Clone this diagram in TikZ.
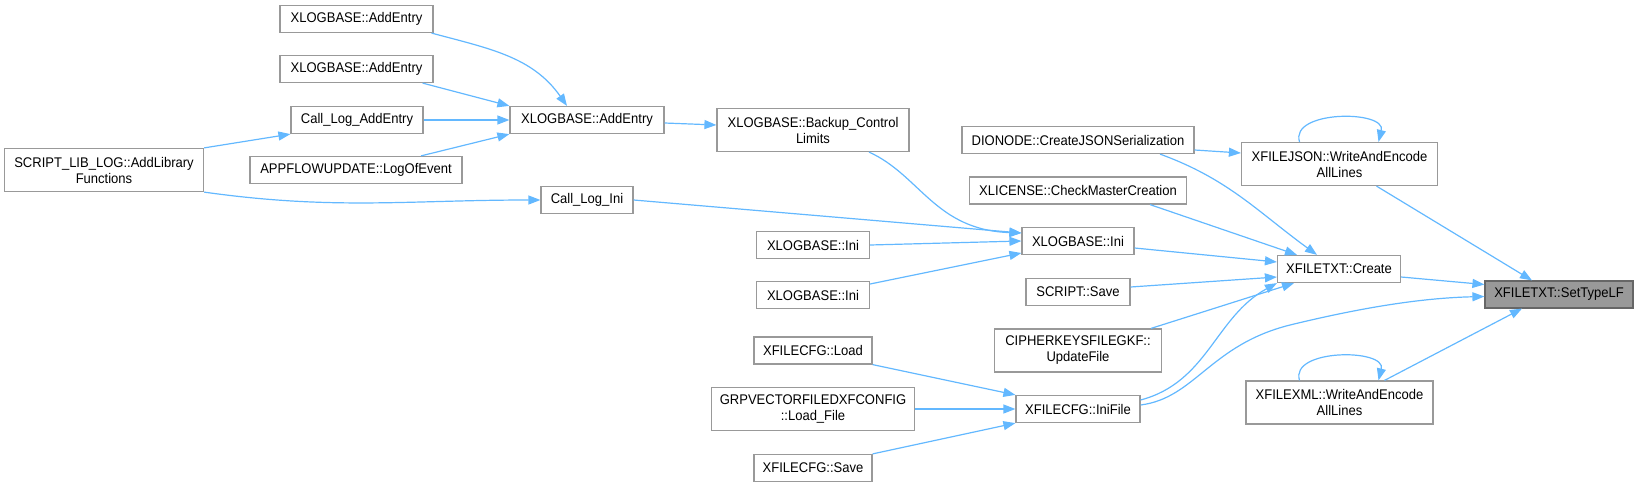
\documentclass[tikz,border=0pt]{standalone}
\usepackage{fontspec}
\setmainfont{Liberation Sans}[FakeStretch=0.93]
\usetikzlibrary{arrows.meta}
\definecolor{edgeBlue}{RGB}{99,184,255}
\definecolor{boxLine}{RGB}{153,153,153}
\definecolor{hiFill}{RGB}{153,153,153}
\definecolor{hiLine}{RGB}{102,102,102}

\begin{document}
\begin{tikzpicture}[x=1pt,y=-1pt,
  fn/.style={draw=boxLine,line width=1.2pt,fill=white,inner sep=0pt,minimum height=27pt,
    align=center,font=\fontsize{14}{16}\selectfont},
  fntwo/.style={fn,minimum height=43pt},
  hl/.style={fn,fill=hiFill,draw=hiLine},
  call/.style={draw=edgeBlue,line width=1.2pt,-{Triangle[length=12pt,width=9pt]}}]
  \useasboundingbox (0,0) rectangle (1638,487);
  % logging callers
  \node[fn,minimum width=153pt] (a1) at (356.5,19) {XLOGBASE::AddEntry};
  \node[fn,minimum width=153pt] (a2) at (356.5,69) {XLOGBASE::AddEntry};
  \node[fn,minimum width=132pt] (cla) at (357,120) {Call\_Log\_AddEntry};
  \node[fn,minimum width=212pt] (afu) at (356,170) {APPFLOWUPDATE::LogOfEvent};
  \node[fntwo,minimum width=199pt] (slib) at (104,170) {SCRIPT\_LIB\_LOG::AddLibrary\\Functions};
  \node[fn,minimum width=154pt] (am) at (587,120) {XLOGBASE::AddEntry};
  \node[fn,minimum width=92pt] (cli) at (587,200) {Call\_Log\_Ini};
  \node[fntwo,minimum width=192pt] (bcl) at (813,130) {XLOGBASE::Backup\_Control\\Limits};
  \node[fn,minimum width=113pt] (ini1) at (813,245) {XLOGBASE::Ini};
  \node[fn,minimum width=113pt] (ini2) at (813,295) {XLOGBASE::Ini};
  % config callers
  \node[fn,minimum width=118pt] (cfgl) at (813,350.5) {XFILECFG::Load};
  \node[fntwo,minimum width=203pt] (grp) at (813,409) {GRPVECTORFILEDXFCONFIG\\::Load\_File};
  \node[fn,minimum width=118pt] (cfgs) at (813,468) {XFILECFG::Save};
  % direct callers of Create
  \node[fn,minimum width=232pt] (dio) at (1078,140) {DIONODE::CreateJSONSerialization};
  \node[fn,minimum width=217pt] (xlic) at (1078,190.5) {XLICENSE::CheckMasterCreation};
  \node[fn,minimum width=112pt] (inim) at (1078,241) {XLOGBASE::Ini};
  \node[fn,minimum width=104pt] (ssave) at (1078,292) {SCRIPT::Save};
  \node[fntwo,minimum width=167pt] (ciph) at (1078,350.5) {CIPHERKEYSFILEGKF::\\UpdateFile};
  \node[fn,minimum width=124pt] (inif) at (1078,409) {XFILECFG::IniFile};
  % last columns
  \node[fntwo,minimum width=196pt] (json) at (1339.5,164) {XFILEJSON::WriteAndEncode\\AllLines};
  \node[fn,minimum width=123pt] (create) at (1339,269) {XFILETXT::Create};
  \node[fntwo,minimum width=187pt] (xml) at (1339.5,402.5) {XFILEXML::WriteAndEncode\\AllLines};
  \node[hl,minimum width=148pt] (stlf) at (1559,294.5) {XFILETXT::SetTypeLF};

  % edges, log part
  \draw[call] ([xshift=-2pt]a1.south east) to[out=-15,in=125] ([xshift=-20pt]am.north);
  \draw[call] ([xshift=-11pt]a2.south east) -- (am.north west);
  \draw[call] (cla.east) -- (am.west);
  \draw[call] ([xshift=65pt]afu.north) -- (am.south west);
  \draw[call] (slib.north east) -- (cla.south west);
  \draw[call] (slib.south east) to[out=-8,in=180] (cli.west);
  \draw[call] ([yshift=-3pt]am.east) -- ([yshift=5pt]bcl.west);
  \draw[call] ([xshift=56pt]bcl.south) .. controls (920,175) and (935,230) .. ([yshift=8pt]inim.west);
  \draw[call] (cli.east) -- ([yshift=8pt]inim.west);
  \draw[call] (ini1.east) -- (inim.west);
  \draw[call] ([yshift=11pt]ini2.east) -- ([yshift=-12pt]inim.west);
  % edges, file part
  \draw[call] ([yshift=-7pt]inim.east) -- ([yshift=7pt]create.west);
  \draw[call] ([yshift=-10pt]dio.east) -- ([yshift=11pt]json.west);
  \draw[call] ([xshift=82pt]dio.south) to[out=-20,in=144] ([xshift=-22pt]create.north);
  \draw[call] ([xshift=72pt]xlic.south) -- ([xshift=-42pt]create.north);
  \draw[call] ([yshift=5pt]ssave.east) -- ([yshift=-8pt]create.west);
  \draw[call] ([xshift=73pt]ciph.north) -- ([xshift=-45pt]create.south);
  \draw[call] ([yshift=9pt]inif.east) .. controls (1208,382) and (1215,317) .. (create.south west);
  \draw[call] ([yshift=4pt]inif.east) .. controls (1195,398) and (1210,345) .. (1290,325)
    .. controls (1360,308) and (1420,298) .. ([yshift=-2pt]stlf.west);
  \draw[call] (cfgl.south east) -- (inif.north west);
  \draw[call] (grp.east) -- (inif.west);
  \draw[call] (cfgs.north east) -- (inif.south west);
  \draw[call] ([yshift=-8pt]create.east) -- ([yshift=10pt]stlf.west);
  \draw[call] ([xshift=37pt]json.south) -- ([xshift=-27pt]stlf.north);
  \draw[call] ([xshift=45pt]xml.north) -- ([xshift=-37pt]stlf.south);
  % recursive calls
  \draw[call] ([xshift=-40pt]json.north) .. controls +(-10,-32) and +(8,-32) .. ([xshift=39pt]json.north);
  \draw[call] ([xshift=-40pt]xml.north) .. controls +(-10,-32) and +(8,-32) .. ([xshift=39pt]xml.north);
\end{tikzpicture}
\end{document}
